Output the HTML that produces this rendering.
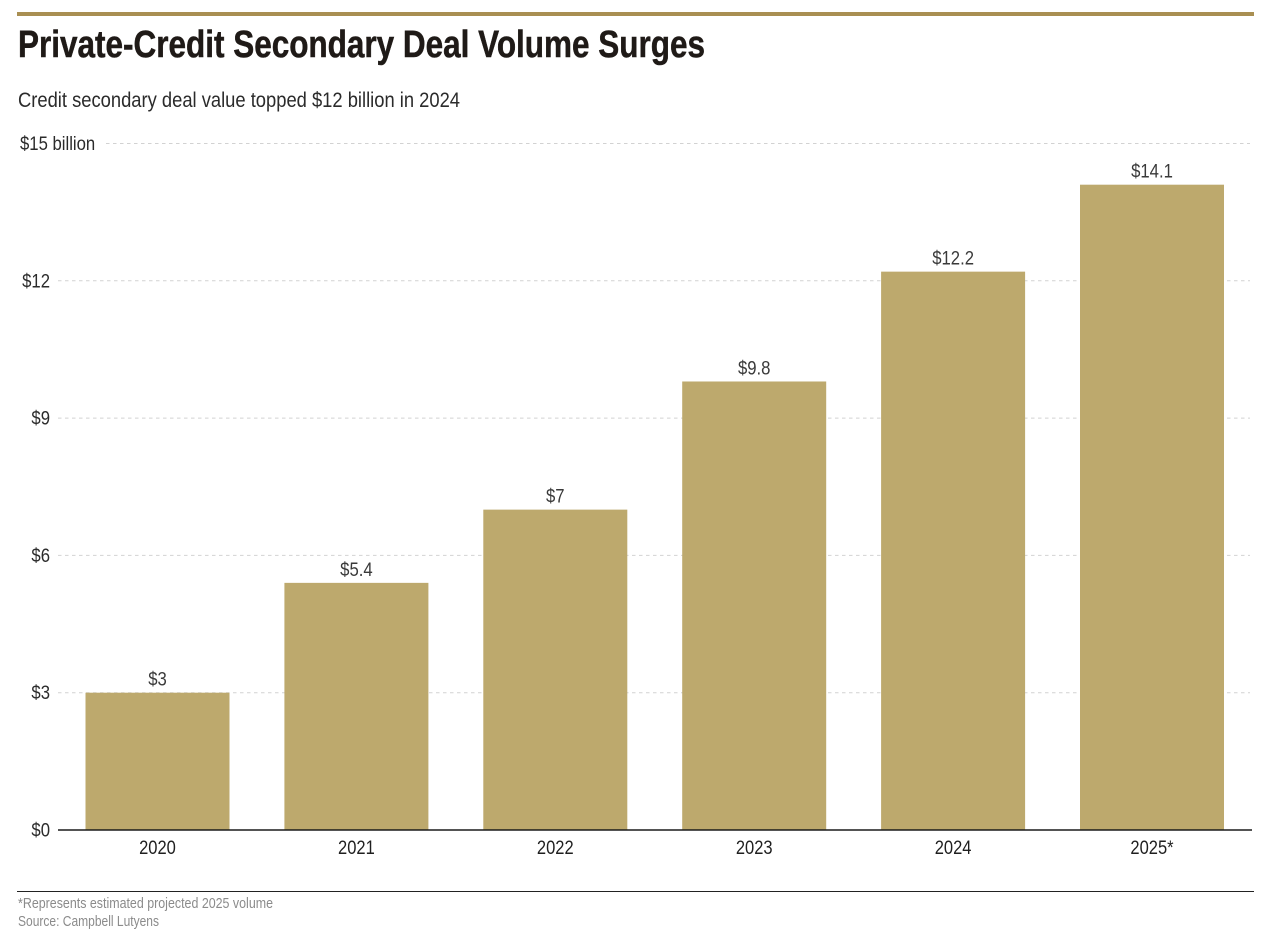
<!DOCTYPE html>
<html lang="en">
<head>
<meta charset="utf-8">
<title>Private-Credit Secondary Deal Volume Surges</title>
<style>
html,body{margin:0;padding:0;background:#fff;width:1278px;height:938px;overflow:hidden}
svg{display:block;font-family:"Liberation Sans",sans-serif}
</style>
</head>
<body>
<svg id="chart" width="1278" height="938" viewBox="0 0 1278 938">
  <rect x="17" y="12" width="1237" height="4" fill="#a98f52"></rect>
  <text x="18" y="57" font-size="38" font-weight="700" fill="#1f1a17" stroke="#1f1a17" stroke-width="0.5" textLength="687" lengthAdjust="spacingAndGlyphs">Private-Credit Secondary Deal Volume Surges</text>
  <text x="18" y="107" font-size="21" fill="#2b2b2b" textLength="442" lengthAdjust="spacingAndGlyphs">Credit secondary deal value topped $12 billion in 2024</text>
  <g id="grid"></g>
  <g id="bars"></g>
  <g id="labels"></g>
  <line x1="58" y1="830" x2="1252" y2="830" stroke="#1a1a1a" stroke-width="1.5"></line>
  <line x1="17" y1="891.5" x2="1254" y2="891.5" stroke="#222" stroke-width="1"></line>
  <text x="18" y="908" font-size="14.5" fill="#8b8b8b" textLength="255" lengthAdjust="spacingAndGlyphs">*Represents estimated projected 2025 volume</text>
  <text x="18" y="926" font-size="14.5" fill="#8b8b8b" textLength="141" lengthAdjust="spacingAndGlyphs">Source: Campbell Lutyens</text>
</svg>
<script>
const categories = ["2020", "2021", "2022", "2023", "2024", "2025*"];
const dealValues = [3, 5.4, 7, 9.8, 12.2, 14.1];
const valueLabels = ["$3", "$5.4", "$7", "$9.8", "$12.2", "$14.1"];
const tickValues = [0, 3, 6, 9, 12, 15];
const tickLabels = ["$0", "$3", "$6", "$9", "$12", "$15 billion"];

const NS = "http://www.w3.org/2000/svg";
const yScale = v => 830 - v * (830 - 143.5) / 15;
const xCenter = i => 157.5 + i * 198.9;
const barWidth = 144;
const gridG = document.getElementById("grid");
const barsG = document.getElementById("bars");
const labelsG = document.getElementById("labels");

function makeText(parent, str, x, y, anchor, fill, sx) {
  const t = document.createElementNS(NS, "text");
  t.setAttribute("transform", "translate(" + x + "," + y + ") scale(" + sx + ",1)");
  t.setAttribute("text-anchor", anchor);
  t.setAttribute("font-size", "19");
  t.setAttribute("fill", fill);
  t.textContent = str;
  parent.appendChild(t);
  return t;
}

tickValues.forEach((v, i) => {
  const y = yScale(v);
  if (v > 0) {
    const line = document.createElementNS(NS, "line");
    
    
    line.setAttribute("x1", i === tickValues.length - 1 ? 106 : 58);
    line.setAttribute("x2", 1250);
    line.setAttribute("y1", y);
    line.setAttribute("y2", y);
    line.setAttribute("stroke", "#d2d2d2");
    line.setAttribute("stroke-width", "1");
    line.setAttribute("stroke-dasharray", "3.5 3.5");
    gridG.appendChild(line);
  }
  const isTop = i === tickValues.length - 1;
  const tick = makeText(labelsG, tickLabels[i], isTop ? 20 : 50, y + 6.5, isTop ? "start" : "end", "#2b2b2b", 0.88);
  
  
});

dealValues.forEach((v, i) => {
  const y = yScale(v);
  const cx = xCenter(i);
  const bar = document.createElementNS(NS, "rect");
  
  
  bar.setAttribute("x", cx - barWidth / 2);
  bar.setAttribute("y", y);
  bar.setAttribute("width", barWidth);
  bar.setAttribute("height", 830 - y);
  bar.setAttribute("fill", "#bda96d");
  barsG.appendChild(bar);

  const value = makeText(labelsG, valueLabels[i], cx, y - 7, "middle", "#3a3a3a", 0.88);
  
  

  const cat = makeText(labelsG, categories[i], cx, 854, "middle", "#1f1f1f", 0.87);
  
  
});
</script>
</body>
</html>
